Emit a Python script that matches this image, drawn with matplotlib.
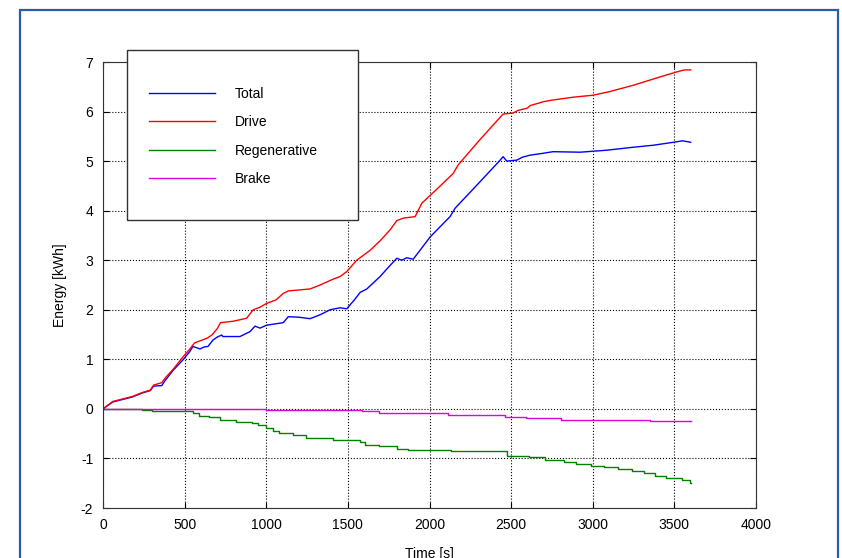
import matplotlib
matplotlib.use('Agg')
import matplotlib.pyplot as plt
from matplotlib.patches import Rectangle

plt.rcParams['font.family'] = ['Liberation Sans', 'DejaVu Sans']
plt.rcParams['axes.unicode_minus'] = False

# ---------------------------------------------------------------- data
drive_t = [0, 40, 60, 120, 180, 240, 290, 310, 360, 380, 430, 490, 530, 560, 600, 640, 670, 700,
           720, 800, 880, 920, 960, 1003, 1060, 1104, 1135, 1268, 1330, 1411, 1452, 1493, 1554,
           1636, 1700, 1760, 1800, 1840, 1912, 1953, 2050, 2145, 2175, 2300, 2451, 2512, 2540,
           2600, 2616, 2700, 2749, 2880, 3002, 3100, 3248, 3413, 3515, 3560, 3600]
drive_e = [0, 0.10, 0.15, 0.20, 0.25, 0.33, 0.38, 0.48, 0.53, 0.62, 0.80, 1.05, 1.20, 1.33, 1.38,
           1.43, 1.50, 1.62, 1.74, 1.77, 1.83, 2.00, 2.05, 2.13, 2.20, 2.33, 2.38, 2.42, 2.50,
           2.62, 2.67, 2.77, 3.00, 3.20, 3.40, 3.62, 3.80, 3.85, 3.88, 4.15, 4.45, 4.75, 4.92,
           5.40, 5.95, 5.97, 6.02, 6.07, 6.12, 6.20, 6.23, 6.29, 6.33, 6.40, 6.53, 6.70, 6.80,
           6.84, 6.84]

total_t = [0, 60, 120, 180, 240, 290, 310, 360, 380, 430, 490, 530, 551, 594, 620, 643, 674, 700,
           727, 735, 839, 901, 931, 962, 1003, 1104, 1135, 1200, 1268, 1330, 1391, 1452, 1493,
           1540, 1575, 1616, 1697, 1760, 1800, 1830, 1860, 1900, 1942, 2004, 2126, 2157, 2300,
           2433, 2451, 2473, 2535, 2570, 2616, 2680, 2757, 2923, 3086, 3248, 3370, 3515, 3550, 3600]
total_e = [0, 0.14, 0.19, 0.24, 0.32, 0.37, 0.46, 0.47, 0.57, 0.78, 0.99, 1.15, 1.26, 1.21, 1.25,
           1.26, 1.39, 1.45, 1.49, 1.46, 1.46, 1.56, 1.67, 1.63, 1.69, 1.74, 1.86, 1.85, 1.82,
           1.90, 2.00, 2.04, 2.02, 2.20, 2.35, 2.42, 2.67, 2.90, 3.04, 3.00, 3.05, 3.02, 3.20,
           3.47, 3.88, 4.05, 4.55, 5.02, 5.09, 5.00, 5.02, 5.08, 5.12, 5.15, 5.19, 5.18, 5.22,
           5.28, 5.32, 5.39, 5.41, 5.38]

regen_t = [0, 240, 300, 553, 585, 650, 717, 816, 915, 947, 997, 1040, 1079, 1161, 1244, 1408,
           1572, 1605, 1688, 1803, 1869, 2132, 2444, 2477, 2609, 2708, 2823, 2900, 2987, 3070,
           3152, 3240, 3316, 3380, 3448, 3547, 3596, 3600]
regen_e = [0, -0.03, -0.05, -0.08, -0.135, -0.17, -0.22, -0.27, -0.29, -0.32, -0.39, -0.44,
           -0.48, -0.53, -0.58, -0.63, -0.66, -0.72, -0.74, -0.81, -0.83, -0.85, -0.85, -0.95,
           -0.98, -1.03, -1.08, -1.11, -1.15, -1.18, -1.22, -1.26, -1.30, -1.35, -1.39, -1.44,
           -1.49, -1.49]

brake_t = [0, 997, 1589, 1688, 2115, 2460, 2592, 2806, 3349, 3600]
brake_e = [0, -0.02, -0.04, -0.09, -0.12, -0.16, -0.19, -0.22, -0.24, -0.24]

# ---------------------------------------------------------------- plot
W, H = 842, 558
fig = plt.figure(figsize=(W / 100, H / 100), dpi=100)
ax = fig.add_axes([103 / W, 1 - 508 / H, (756 - 103) / W, (508 - 62) / H])

ax.plot(total_t, total_e, color='#0000ff', lw=1.0, label='Total')
ax.plot(drive_t, drive_e, color='#ff0000', lw=1.0, label='Drive')
ax.plot(regen_t, regen_e, color='#008000', lw=1.0, drawstyle='steps-post', label='Regenerative')
ax.plot(brake_t, brake_e, color='#dd00dd', lw=1.0, drawstyle='steps-post', label='Brake')

ax.set_xlim(0, 4000)
ax.set_ylim(-2, 7)
ax.set_xticks(range(0, 4001, 500))
ax.set_yticks(range(-2, 8))
ax.grid(True, color='k', ls=':', lw=0.8)
ax.tick_params(direction='in', top=True, right=True, labelsize=10, length=4, pad=7)
for s in ax.spines.values():
    s.set_color('#333333')
ax.set_xlabel('Time [s]', fontsize=10, labelpad=11)
ax.set_ylabel('Energy [kWh]', fontsize=10, labelpad=10)

# legend box
box = Rectangle((127 / W, 1 - 220 / H), (358 - 127) / W, (220 - 50) / H,
                transform=fig.transFigure, facecolor='white', edgecolor='#333333',
                lw=1.0, zorder=4, clip_on=False)
ax.add_patch(box)
leg = ax.legend(loc='upper left', bbox_to_anchor=(149 / W, 1 - 87 / H),
                bbox_transform=fig.transFigure, frameon=False, fontsize=10,
                handlelength=4.75, handletextpad=1.45, labelspacing=1.03, borderpad=0,
                borderaxespad=0)
leg.set_zorder(5)

# blue outer border
border = Rectangle((20 / W, -0.05), (838 - 20) / W, 1 - 10 / H + 0.05,
                   transform=fig.transFigure, facecolor='none', edgecolor='#2a5aaa',
                   lw=1.6, zorder=10)
fig.patches.append(border)

fig.savefig('out.png', dpi=100)
